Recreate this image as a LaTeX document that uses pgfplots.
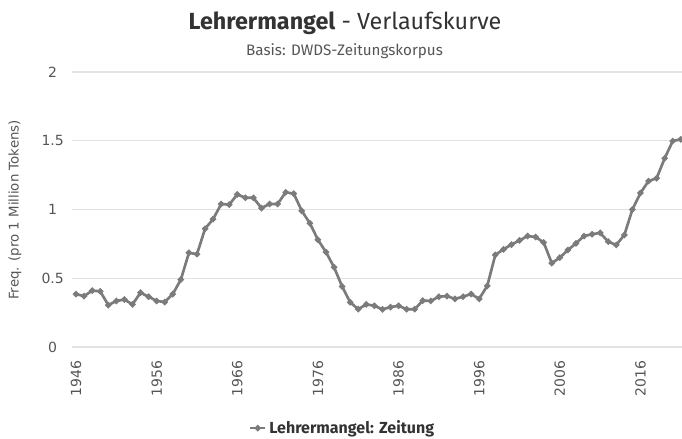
\documentclass[border=0pt]{standalone}
\usepackage{fontspec}
\setmainfont{Fira Sans}
\newfontfamily\tickfont{DejaVu Sans}
\usepackage{pgfplots}
\usepackage{pgfplotstable}
\pgfplotsset{compat=1.18}
\definecolor{linegray}{HTML}{7B7B7B}
\definecolor{gridgray}{HTML}{E3E3E3}
\definecolor{txt}{HTML}{333333}
\definecolor{ticktxt}{HTML}{555555}
\pgfplotstableread{
year val
1946 0.385
1947 0.37
1948 0.41
1949 0.405
1950 0.305
1951 0.335
1952 0.345
1953 0.31
1954 0.395
1955 0.366
1956 0.335
1957 0.327
1958 0.385
1959 0.49
1960 0.685
1961 0.675
1962 0.86
1963 0.93
1964 1.04
1965 1.035
1966 1.11
1967 1.085
1968 1.085
1969 1.01
1970 1.04
1971 1.04
1972 1.125
1973 1.115
1974 0.99
1975 0.90
1976 0.78
1977 0.69
1978 0.58
1979 0.44
1980 0.325
1981 0.275
1982 0.31
1983 0.30
1984 0.274
1985 0.29
1986 0.30
1987 0.275
1988 0.275
1989 0.337
1990 0.335
1991 0.366
1992 0.37
1993 0.35
1994 0.366
1995 0.385
1996 0.35
1997 0.445
1998 0.67
1999 0.71
2000 0.745
2001 0.775
2002 0.807
2003 0.80
2004 0.76
2005 0.61
2006 0.65
2007 0.705
2008 0.754
2009 0.807
2010 0.82
2011 0.83
2012 0.766
2013 0.742
2014 0.815
2015 1.0
2016 1.12
2017 1.207
2018 1.227
2019 1.372
2020 1.498
2021 1.51
}\datatable
\begin{document}
\begin{tikzpicture}
\useasboundingbox (-54pt,-69pt) rectangle (457.5pt,260.25pt);
\begin{axis}[
  scale only axis,
  width=457.5pt, height=206.25pt,
  xmin=1945.5, xmax=2021.15,
  ymin=0, ymax=2,
  axis line style={draw=none},
  ymajorgrids,
  grid style={gridgray, line width=0.8pt},
  major tick length=0pt,
  xtick={1946,1956,1966,1976,1986,1996,2006,2016},
  xticklabels={1946,1956,1966,1976,1986,1996,2006,2016},
  ytick={0,0.5,1,1.5,2},
  yticklabels={0,0.5,1,1.5,2},
  xticklabel style={rotate=90, anchor=east, font=\tickfont\fontsize{10.5}{12}\selectfont, text=ticktxt},
  xticklabel shift=7pt,
  yticklabel style={anchor=center, font=\tickfont\fontsize{10.5}{12}\selectfont, text=ticktxt},
  yticklabel shift=14.5pt,
  legend style={at={(0.444,-0.295)}, anchor=center, draw=none, fill=none,
    font=\fontsize{12}{14}\selectfont\bfseries\color{txt}},
  legend image code/.code={\draw[mark repeat=2,mark phase=2,#1] plot coordinates {(0cm,0cm) (0.2cm,0cm) (0.4cm,0cm)};},
]
\addplot[linegray, line width=2pt, mark=*, mark size=1.2pt, mark options={fill=linegray, draw=linegray}] table[x=year, y=val] {\datatable};
\addlegendentry{Lehrermangel: Zeitung}
\end{axis}
\node[text=txt, font=\fontsize{17.5}{20}\selectfont] at (204.75pt,243pt) {\textbf{Lehrermangel} - Verlaufskurve};
\node[text=ticktxt, font=\fontsize{11.4}{13}\selectfont] at (204.4pt,222pt) {Basis: DWDS-Zeitungskorpus};
\node[rotate=90, text=ticktxt, font=\tickfont\fontsize{10}{12}\selectfont] at (-42.75pt,102.75pt) {Freq. (pro 1 Million Tokens)};
\end{tikzpicture}
\end{document}
